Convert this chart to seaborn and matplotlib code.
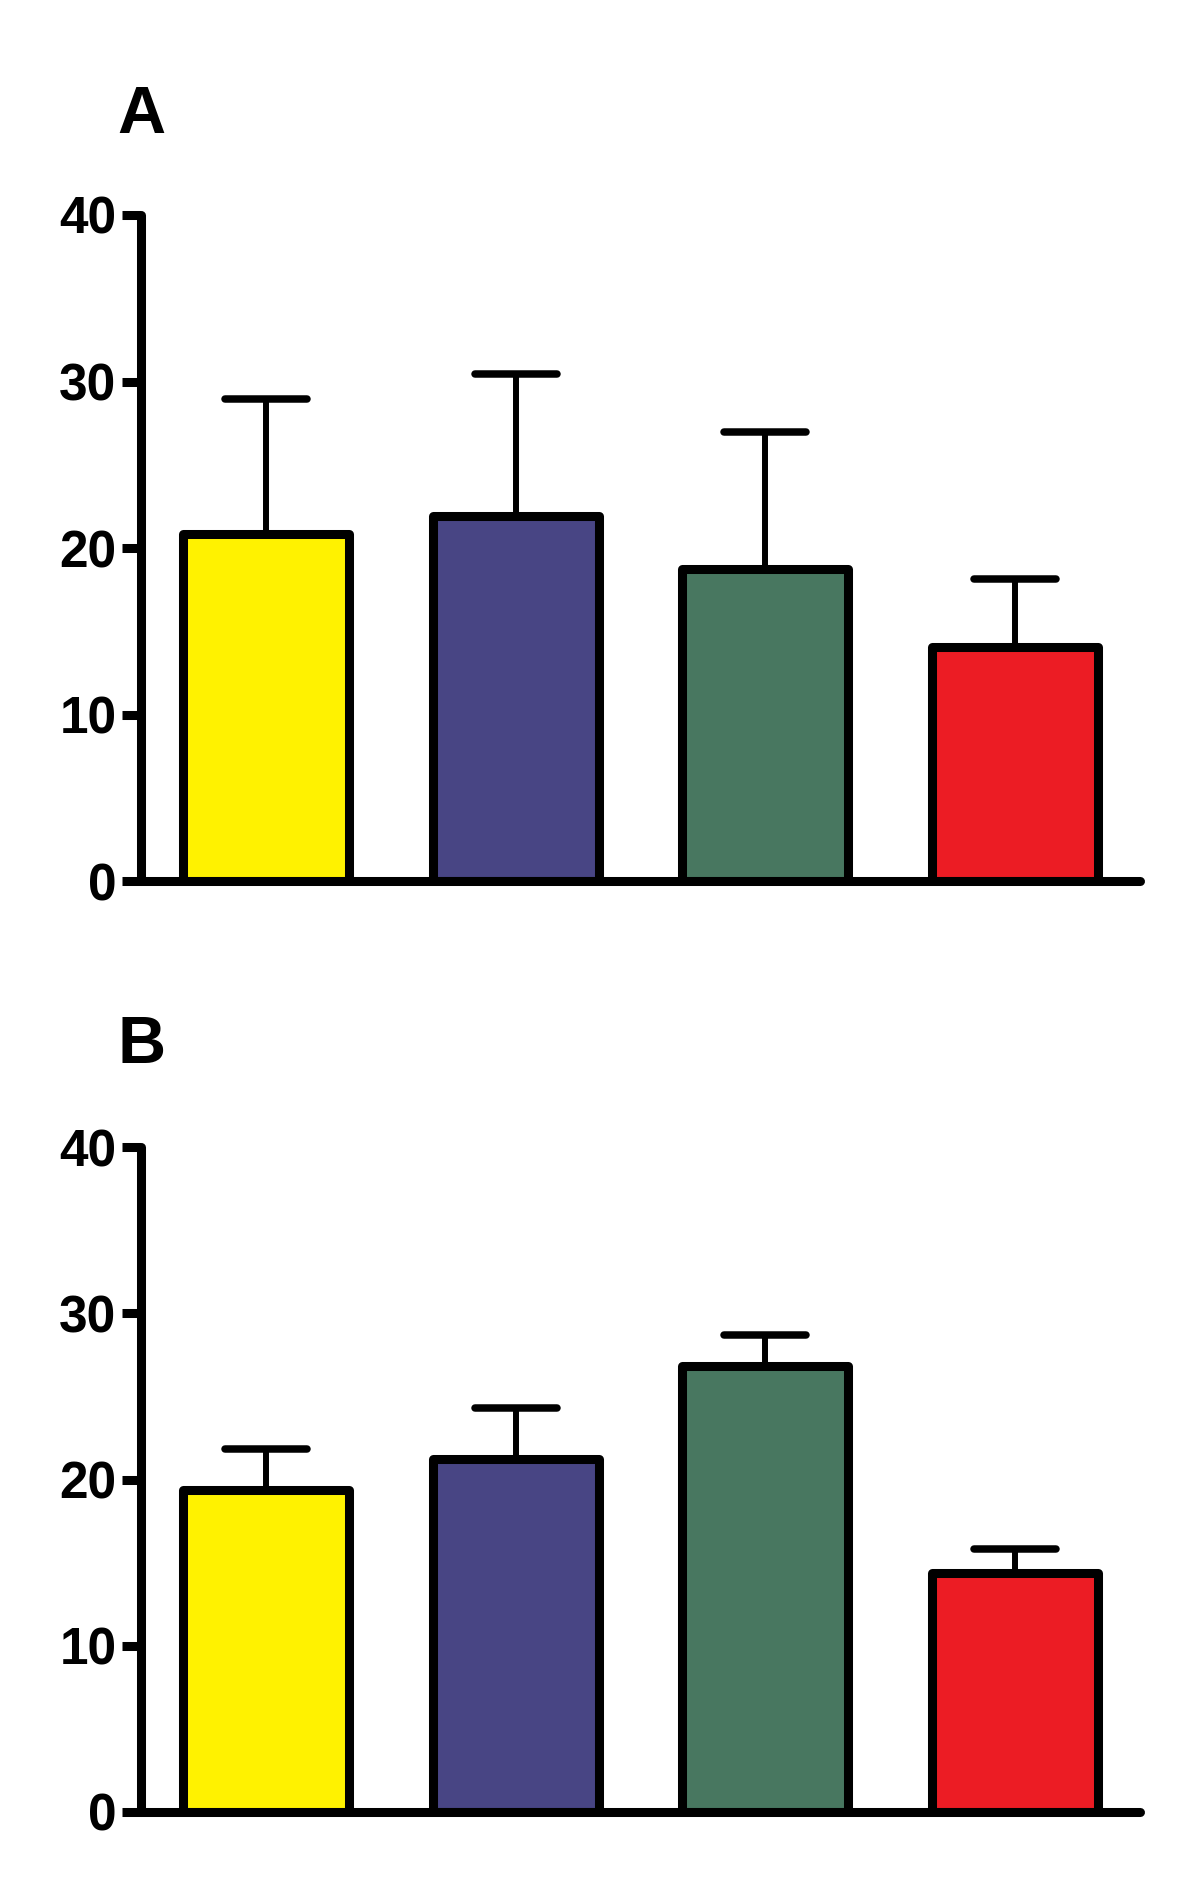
import matplotlib
matplotlib.use("Agg")
import matplotlib.pyplot as plt
from matplotlib.markers import MarkerStyle
import seaborn as sns
import numpy as np
import pandas as pd

# ---- data ----
groups = ["G1", "G2", "G3", "G4"]
colors = ["#FFF200", "#484584", "#487760", "#EC1C24"]
panel_labels = ["A", "B"]
means_A = [20.85, 21.95, 18.75, 14.1]
errs_A = [8.1, 8.5, 8.25, 4.05]
means_B = [19.35, 21.25, 26.8, 14.4]
errs_B = [2.5, 3.05, 1.9, 1.4]
yticks = [0, 10, 20, 30, 40]

sns.set_theme(style="white")
plt.rcParams["font.family"] = ["Liberation Sans", "DejaVu Sans"]
plt.rcParams["text.color"] = "black"

fig = plt.figure(figsize=(12, 18.79), dpi=100)

LW = 6.5
axes_rects = [
    [0.1179, 0.5309, 0.8317, 0.3547],
    [0.1179, 0.03566, 0.8317, 0.3539],
]
label_y = [1 - 133 / 1879, 1 - 1063 / 1879]

for rect, lab, ly, means, errs in zip(axes_rects, panel_labels, label_y,
                                       [means_A, means_B], [errs_A, errs_B]):
    ax = fig.add_axes(rect)
    df = pd.DataFrame({"group": groups, "value": means})
    sns.barplot(data=df, x="group", y="value", hue="group", palette=colors,
                width=0.665, edgecolor="black", linewidth=LW, legend=False,
                ax=ax, zorder=3, saturation=1)
    for p in ax.patches:
        p.set_joinstyle("round")
    xs = np.arange(len(groups))
    eb = ax.errorbar(xs, means, yerr=[np.zeros(len(errs)), errs], fmt="none",
                     ecolor="black", elinewidth=4.3, capsize=29.5, capthick=5.4,
                     zorder=1)
    for cl in eb[1]:
        cl.set_marker(MarkerStyle("_", capstyle="round"))
    ax.set_xlim(-0.5, 3.5)
    ax.set_ylim(0, 40)
    ax.set_yticks(yticks)
    ax.set_yticklabels([str(t) for t in yticks], fontsize=37, fontweight="bold",
                       color="black")
    ax.set_xticks([])
    ax.set_xlabel("")
    ax.set_ylabel("")
    ax.tick_params(axis="y", direction="out", length=14, width=LW, pad=4,
                   left=True, colors="black")
    for s in ["top", "right"]:
        ax.spines[s].set_visible(False)
    for s in ["left", "bottom"]:
        ax.spines[s].set_linewidth(LW)
        ax.spines[s].set_color("black")
        ax.spines[s].set_capstyle("round")
        ax.spines[s].set_zorder(5)
    ax.patch.set_alpha(0)
    fig.text(0.118, ly, lab, fontsize=48, fontweight="bold", ha="center",
             va="baseline", color="black")

fig.savefig("out.png", dpi=100, facecolor="white")
